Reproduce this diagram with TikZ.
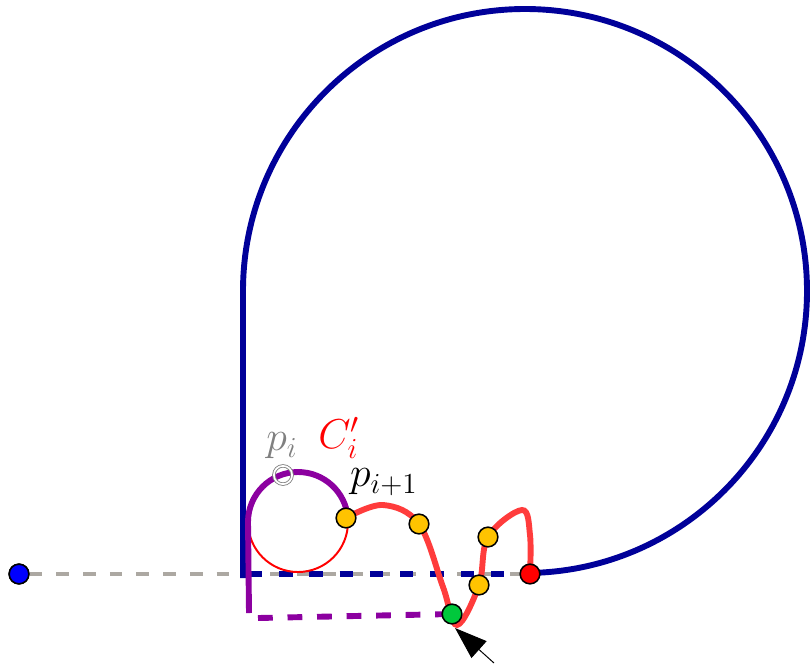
\documentclass[tikz,border=0pt]{standalone}
\usepackage{tikz}
\usetikzlibrary{arrows.meta,positioning,calc}

\definecolor{loopblue}{RGB}{0,0,153}
\definecolor{pathpurple}{RGB}{140,0,160}
\definecolor{curvered}{RGB}{255,60,60}
\definecolor{rayray}{RGB}{172,168,162}
\definecolor{dotyellow}{RGB}{255,195,0}
\definecolor{dotgreen}{RGB}{0,200,60}

\begin{document}
\begin{tikzpicture}[
  x=0.25mm, y=-0.25mm,
  dot/.style={circle, draw=black, line width=1.1pt, minimum size=14pt, inner sep=0pt},
  ydot/.style={dot, fill=dotyellow},
  loopline/.style={loopblue, line width=4.2pt},
  purp/.style={pathpurple, line width=4.2pt},
  arr/.style={-{Triangle[length=23pt, width=16pt]}, line width=0.7pt, black},
  lbl/.style={font=\LARGE, scale=1.72, inner sep=0pt},
]
\useasboundingbox (0,0) rectangle (811,667);

% Ray
\node[dot, fill=blue] (s) at (19,574) {};
\coordinate (e) at (530,574);
\draw[rayray, line width=2.2pt, dash pattern=on 9pt off 10pt] (s) -- (e);

% Big loop
\coordinate (lb) at (243,578);
\draw[loopline] (lb) -- (243,291) arc[start angle=180, end angle=450, radius=282];
\draw[loopline, dash pattern=on 9.5pt off 12pt] (249,574) -- (e);

% Small circle and purple part
\coordinate (cc) at (298,522);
\draw[red, line width=1.4pt] (cc) circle[radius=50];
\coordinate (pb) at (249,613);
\draw[purp] (pb) -- (248,522) arc[start angle=180, end angle=355, radius=50];
\coordinate (g) at (452,614);
\draw[purp, dash pattern=on 10.5pt off 10.5pt] (258,618) -- (g);

% Red curve
\coordinate (y1) at (346,518);
\coordinate (y2) at (419,524);
\coordinate (y3) at (488,537);
\coordinate (y4) at (479,585);
\draw[curvered, line width=4.2pt, line cap=round] plot[smooth, tension=0.6] coordinates
  {(y1) (383,505) (y2) (443,587) (457,625) (y4) (y3) (522,510) (530,535) (e)};

% Points
\node[dot, fill=blue] at (s) {};
\node[ydot] (p1) at (y1) {};
\node[ydot] (p2) at (y2) {};
\node[ydot] (p3) at (y3) {};
\node[ydot] (p4) at (y4) {};
\node[dot, fill=dotgreen] (pg) at (g) {};
\node[dot, fill=red] (pr) at (e) {};
\node[circle, draw=gray, line width=0.6pt, double=white, double distance=1.2pt, minimum size=13pt, inner sep=0pt] (pi) at (283,475) {};

% Labels
\node[lbl, gray] (lpi) at (282,446) {$p_i$};
\node[lbl, red] (lc) at (339,438) {$C_i'$};
\node[lbl] (lpn) at (384,482) {$p_{i+1}$};

% Arrow
\coordinate (at) at (494,663);
\draw[arr] (at) -- (455,628);

\end{tikzpicture}
\end{document}
